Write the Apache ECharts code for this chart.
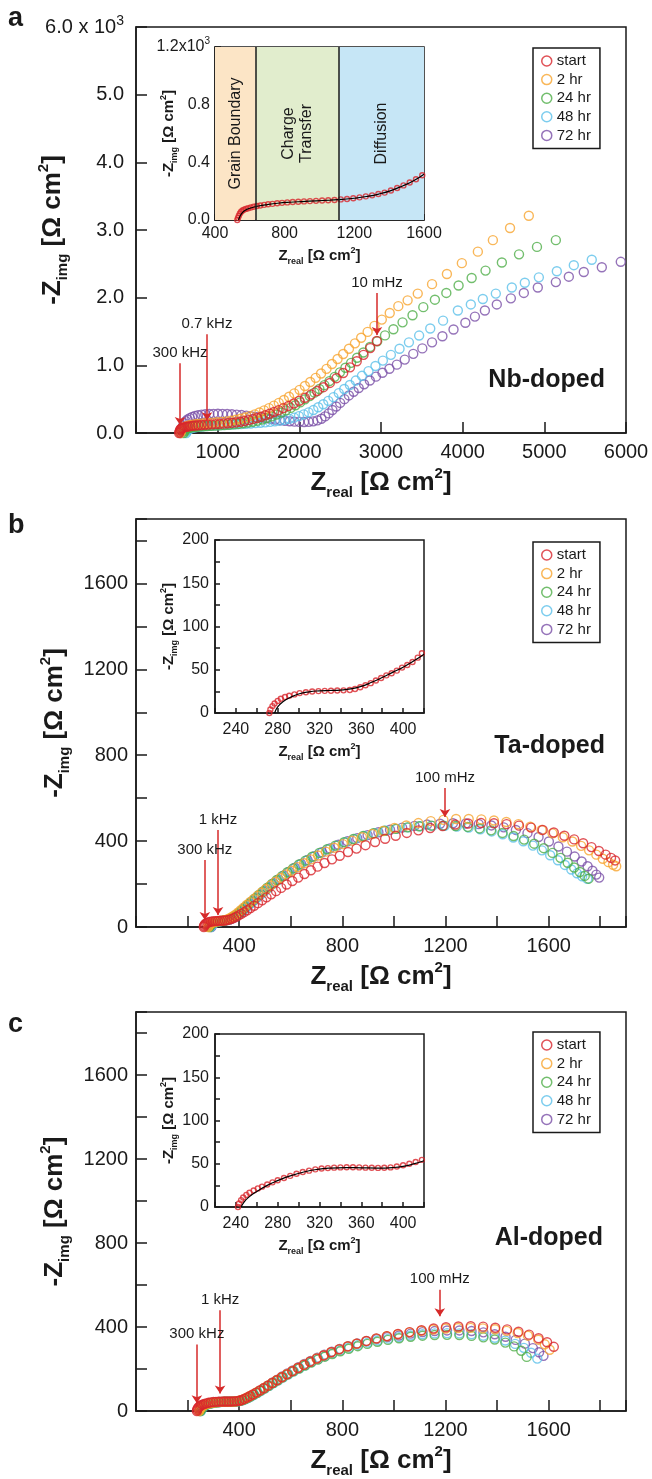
<!DOCTYPE html>
<html>
<head>
<meta charset="utf-8">
<script src="https://cdn.jsdelivr.net/npm/echarts@6/dist/echarts.min.js"></script>
<style>
html, body { margin: 0; padding: 0; background: #fff; }
#chart { width: 652px; height: 1479px; }
</style>
</head>
<body>
<div id="chart"></div>
<script>
// legend names and colours
const names = ['start', '2 hr', '24 hr', '48 hr', '72 hr'];
const colors = ['#d8262c', '#f7a530', '#4fae48', '#5cc1ea', '#7b50a7'];

// ---- panel a : Nb-doped (x in ohm cm2, y in 10^3 ohm cm2)
const nbStart = [[528,0.00],[533,0.02],[539,0.04],[546,0.055],[555,0.066],[566,0.074],[580,0.080],[597,0.086],[617,0.092],[640,0.097],[666,0.102],[695,0.107],[727,0.111],[762,0.115],[800,0.118],[840,0.122],[883,0.125],[928,0.128],[975,0.131],[1024,0.134],[1074,0.138],[1125,0.143],[1176,0.149],[1227,0.157],[1278,0.166],[1329,0.177],[1380,0.19],[1431,0.205],[1482,0.222],[1533,0.241],[1584,0.262],[1636,0.285],[1690,0.31],[1746,0.338],[1805,0.368],[1867,0.40],[1932,0.436],[2000,0.476],[2070,0.52],[2143,0.568],[2218,0.62],[2295,0.677],[2374,0.74],[2455,0.81],[2537,0.886],[2620,0.97],[2703,1.06],[2786,1.155],[2868,1.255],[2948,1.36]];
const nb2h = [[545,0.0],[552,0.03],[562,0.055],[576,0.075],[594,0.09],[616,0.102],[642,0.112],[672,0.12],[706,0.127],[744,0.133],[786,0.138],[832,0.143],[882,0.148],[935,0.153],[990,0.158],[1047,0.164],[1105,0.172],[1163,0.182],[1221,0.195],[1279,0.21],[1337,0.228],[1395,0.25],[1453,0.275],[1511,0.303],[1569,0.334],[1628,0.368],[1688,0.405],[1749,0.445],[1811,0.488],[1874,0.535],[1938,0.585],[2003,0.638],[2068,0.694],[2134,0.753],[2200,0.815],[2266,0.88],[2333,0.948],[2400,1.02],[2468,1.093],[2537,1.168],[2608,1.245],[2681,1.325],[2757,1.408],[2836,1.494],[2920,1.583],[3010,1.676],[3107,1.773],[3212,1.875],[3326,1.96],[3450,2.06],[3625,2.2],[3807,2.35],[3990,2.51],[4186,2.68],[4370,2.85],[4580,3.03],[4810,3.21]];
const nb24h = [[585,0.0],[592,0.025],[602,0.045],[616,0.06],[634,0.07],[656,0.078],[682,0.084],[712,0.089],[746,0.093],[784,0.097],[826,0.10],[872,0.103],[921,0.106],[973,0.109],[1027,0.112],[1083,0.116],[1140,0.121],[1198,0.127],[1256,0.134],[1314,0.143],[1372,0.154],[1430,0.167],[1488,0.182],[1546,0.2],[1604,0.221],[1662,0.245],[1720,0.272],[1778,0.302],[1836,0.335],[1894,0.371],[1952,0.41],[2010,0.452],[2068,0.497],[2127,0.545],[2186,0.596],[2246,0.65],[2307,0.707],[2369,0.767],[2432,0.83],[2497,0.896],[2564,0.965],[2634,1.037],[2707,1.112],[2784,1.19],[2866,1.271],[2954,1.355],[3049,1.442],[3152,1.533],[3264,1.635],[3386,1.74],[3518,1.86],[3660,1.97],[3800,2.07],[3950,2.18],[4110,2.29],[4280,2.40],[4480,2.52],[4690,2.64],[4910,2.75],[5141,2.85]];
const nb48h = [[615,0.0],[622,0.025],[632,0.043],[646,0.056],[664,0.066],[686,0.074],[712,0.081],[742,0.087],[776,0.092],[814,0.097],[856,0.101],[902,0.105],[951,0.109],[1003,0.113],[1057,0.117],[1113,0.121],[1170,0.125],[1228,0.129],[1287,0.133],[1346,0.137],[1405,0.141],[1464,0.146],[1523,0.151],[1582,0.157],[1641,0.164],[1700,0.172],[1759,0.182],[1818,0.194],[1877,0.209],[1936,0.227],[1995,0.249],[2054,0.275],[2113,0.305],[2172,0.339],[2232,0.38],[2293,0.425],[2355,0.475],[2418,0.53],[2483,0.59],[2550,0.65],[2619,0.71],[2691,0.775],[2767,0.845],[2847,0.915],[2932,0.99],[3023,1.07],[3121,1.155],[3227,1.245],[3342,1.34],[3467,1.44],[3603,1.545],[3760,1.66],[3941,1.81],[4100,1.90],[4247,1.98],[4406,2.06],[4602,2.15],[4761,2.22],[4933,2.30],[5153,2.39],[5361,2.48],[5581,2.56]];
const nb72h = [[550,0.0],[556,0.03],[565,0.07],[577,0.11],[592,0.145],[610,0.175],[632,0.2],[658,0.22],[688,0.237],[722,0.251],[760,0.262],[802,0.271],[848,0.277],[897,0.281],[949,0.283],[1003,0.284],[1059,0.283],[1116,0.281],[1174,0.277],[1233,0.272],[1292,0.265],[1351,0.257],[1410,0.248],[1469,0.238],[1528,0.228],[1587,0.218],[1646,0.208],[1705,0.198],[1764,0.189],[1823,0.181],[1882,0.174],[1941,0.168],[2000,0.164],[2058,0.163],[2115,0.165],[2170,0.172],[2222,0.186],[2270,0.21],[2315,0.245],[2360,0.29],[2405,0.34],[2452,0.392],[2500,0.445],[2552,0.5],[2607,0.555],[2665,0.61],[2727,0.665],[2793,0.72],[2863,0.776],[2938,0.833],[3018,0.891],[3103,0.95],[3194,1.01],[3291,1.085],[3395,1.17],[3506,1.25],[3625,1.34],[3752,1.43],[3888,1.53],[4033,1.63],[4150,1.72],[4272,1.81],[4418,1.90],[4590,1.99],[4749,2.07],[4920,2.15],[5141,2.23],[5300,2.31],[5483,2.38],[5704,2.45],[5936,2.53]];
const nbInsetPts = [[528,0.0],[532,0.015],[537,0.03],[543,0.045],[550,0.058],[558,0.066],[567,0.072],[577,0.077],[590,0.082],[605,0.087],[622,0.092],[640,0.097],[660,0.101],[682,0.105],[705,0.109],[730,0.112],[757,0.116],[785,0.119],[815,0.122],[846,0.125],[878,0.127],[911,0.129],[945,0.131],[980,0.133],[1015,0.135],[1050,0.137],[1086,0.139],[1122,0.143],[1158,0.146],[1194,0.151],[1230,0.157],[1266,0.164],[1302,0.171],[1338,0.18],[1374,0.19],[1410,0.205],[1446,0.222],[1482,0.24],[1518,0.26],[1554,0.283],[1590,0.31],[1603,0.322]];
const nbInsetFit = [[535,0],[545,0.03],[560,0.055],[580,0.072],[610,0.085],[650,0.097],[700,0.107],[760,0.116],[830,0.123],[900,0.128],[980,0.133],[1060,0.138],[1130,0.143],[1200,0.151],[1270,0.163],[1340,0.18],[1410,0.204],[1480,0.238],[1540,0.272],[1600,0.318]];
const nbRegions = [[400, 633, 'Grain Boundary', '#fce5c6'], [633, 1112, 'Charge\nTransfer', '#e1edcd'], [1112, 1600, 'Diffusion', '#c6e6f6']];
const nbArrows = [[539, 1.03, 0.12, '300 kHz'], [869, 1.46, 0.19, '0.7 kHz'], [2951, 2.07, 1.45, '10 mHz']];

// ---- panel b : Ta-doped (ohm cm2)
const taStart = [[263,0],[264,5],[266,10],[269,14],[273,17.5],[278,20.5],[284,23],[291,25],[299,26.5],[308,27.5],[317,28.2],[326,28.8],[335,29.5],[344,30.5],[353,32],[362,34.5],[371,38],[380,42.5],[389,48],[398,54],[408,61],[419,69],[431,78],[444,88],[458,99],[473,111],[489,124],[506,138],[524,152],[543,167],[563,182],[584,198],[606,214],[629,230],[653,247],[678,264],[704,281],[731,298],[760,315],[790,332],[822,349],[855,365],[890,381],[927,396],[966,411],[1007,425],[1050,438],[1095,450],[1141,461],[1189,470],[1238,477],[1288,482],[1338,484],[1388,483],[1437,479],[1485,472],[1532,463],[1577,452],[1620,440],[1661,425],[1699,408],[1734,390],[1766,372],[1795,354],[1821,337],[1842,322],[1858,310]];
const ta2h = [[280,0],[282,6],[285,11],[289,15],[294,19],[300,22],[307,24.5],[315,26.5],[324,28],[333,29.5],[342,31.5],[351,34.5],[360,38.5],[369,44],[378,51],[387,59],[396,68],[406,78.5],[417,90],[429,102.5],[442,116],[456,130],[471,145],[487,161],[504,177],[522,194],[541,211],[561,228],[582,245],[604,262],[627,279],[652,297],[678,315],[706,333],[736,351],[768,369],[802,386],[838,402],[876,418],[916,433],[958,447],[1002,461],[1048,473],[1095,484],[1143,493],[1192,499],[1241,503],[1290,503],[1339,501],[1388,496],[1436,489],[1483,479],[1529,467],[1573,452],[1615,436],[1655,418],[1692,398],[1726,378],[1757,357],[1785,337],[1810,318],[1832,302],[1850,290],[1862,283]];
const ta24h = [[285,0],[287,6],[290,11],[294,15],[299,19],[305,22],[312,24.5],[320,26.5],[329,28],[338,29.5],[347,31.5],[356,34.5],[365,38.5],[374,44],[383,51],[392,59],[401,68],[411,79],[422,91],[434,104],[447,118],[461,133],[476,149],[492,166],[509,183],[527,201],[546,219],[566,237],[587,255],[609,273],[632,291],[657,309],[683,327],[711,345],[741,362],[773,379],[807,395],[843,410],[881,424],[921,437],[963,448],[1007,457],[1052,464],[1098,469],[1145,472],[1192,472],[1239,470],[1286,466],[1332,459],[1377,450],[1421,438],[1464,424],[1505,407],[1544,388],[1581,367],[1615,345],[1646,322],[1674,299],[1699,277],[1721,256],[1740,238],[1755,225]];
const ta48h = [[290,0],[292,6],[295,11],[299,15.5],[304,19.5],[310,22.5],[317,25],[325,27],[334,28.5],[343,30],[352,32],[361,35],[370,39],[379,44.5],[388,51.5],[397,59.5],[406,68.5],[416,79],[427,91],[439,104],[452,118],[466,133],[481,149],[497,166],[514,183],[532,201],[551,219],[571,237],[592,255],[614,273],[637,291],[662,309],[688,327],[716,345],[746,362],[778,379],[812,395],[848,410],[886,424],[926,437],[968,448],[1012,457],[1057,464],[1103,469],[1150,471],[1197,471],[1244,468],[1290,463],[1335,455],[1379,445],[1422,432],[1463,417],[1502,399],[1539,379],[1574,357],[1606,334],[1636,311],[1663,289],[1688,268],[1710,250],[1730,236],[1750,224]];
const ta72h = [[292,0],[294,6],[297,11],[301,15.5],[306,19.5],[312,22.5],[319,25],[327,27],[336,28.5],[345,30],[354,32],[363,35],[372,39.5],[381,45.5],[390,53],[399,61.5],[408,71],[418,82],[429,94],[441,107],[454,121],[468,136],[483,152],[499,169],[516,186],[534,204],[553,222],[573,240],[594,258],[616,276],[640,294],[665,312],[692,330],[721,348],[752,366],[785,383],[820,399],[858,414],[898,428],[940,441],[985,453],[1032,463],[1080,471],[1129,477],[1179,481],[1229,483],[1279,482],[1329,479],[1378,473],[1426,464],[1473,452],[1518,437],[1561,419],[1601,398],[1638,375],[1671,351],[1701,328],[1728,305],[1751,283],[1770,262],[1785,244],[1796,230]];
const taInsetPts = [[272,0],[273,4],[275,8],[277,11],[280,14],[283,16.5],[287,18.5],[291,20],[296,21.5],[301,23],[307,24],[313,24.8],[319,25.3],[325,25.6],[331,25.8],[337,26],[343,26.2],[349,26.6],[354,27.8],[359,29.8],[364,32],[369,34.5],[374,37.5],[379,40.5],[384,43.5],[389,46],[394,49],[399,52.5],[404,55.5],[409,59],[414,64],[418,69]];
const taInsetFit = [[277,0],[280,7],[285,13],[292,18],[300,22],[310,24.5],[320,25.6],[330,26],[340,26.5],[350,27.8],[360,30.8],[370,35.5],[380,41],[390,47],[400,53],[410,60],[420,68]];
const taArrows = [[267, 312, 33, '300 kHz'], [318, 452, 56, '1 kHz'], [1198, 647, 512, '100 mHz']];

// ---- panel c : Al-doped (ohm cm2)
const alStart = [[236,0],[237,6],[239,12],[242,17],[246,22],[251,26.5],[257,30.5],[264,34],[272,37],[281,39.5],[290,41.5],[300,43],[310,44],[320,44.8],[330,45.3],[340,45.6],[350,45.8],[360,45.9],[370,46],[380,46.5],[390,47.5],[400,49.5],[410,53],[420,58],[430,64],[441,71],[453,79],[466,88],[480,98],[495,109],[511,121],[528,134],[546,147],[565,161],[585,175],[606,190],[628,205],[651,220],[675,235],[701,250],[728,265],[757,280],[788,294],[821,308],[856,321],[893,334],[932,346],[973,357],[1016,367],[1061,376],[1107,385],[1154,393],[1202,399],[1250,403],[1298,404],[1346,402],[1393,397],[1439,389],[1483,378],[1524,364],[1561,347],[1594,328],[1620,306]];
const al2h = [[245,0],[246,6],[248,11],[251,16],[255,21],[260,25.5],[266,29.5],[273,33],[281,36],[290,38.5],[299,40.5],[309,42],[319,43],[329,43.8],[339,44.3],[349,44.6],[359,44.8],[369,45],[379,45.6],[389,46.8],[399,49],[409,52.5],[419,57.5],[429,63.5],[440,70.5],[452,78.5],[465,87.5],[479,97.5],[494,108.5],[510,120.5],[527,133.5],[545,147],[564,161],[584,175.5],[605,190.5],[627,205.5],[650,220.5],[674,235.5],[700,250.5],[727,265.5],[756,280],[787,294],[820,307.5],[855,320.5],[892,333],[931,345],[972,356],[1015,366],[1060,375],[1106,382.5],[1153,388.5],[1201,393],[1249,395.5],[1297,396],[1345,394],[1392,389.5],[1437,382],[1480,372],[1520,359],[1560,340],[1585,318],[1604,292]];
const al24h = [[250,0],[251,6],[253,11],[256,16],[260,21],[265,25.5],[271,29.5],[278,33],[286,36],[295,38.5],[304,40.5],[314,42],[324,43],[334,43.8],[344,44.3],[354,44.6],[364,44.8],[374,45],[384,45.6],[394,46.8],[404,49],[414,52.5],[424,57.5],[434,63.5],[445,70.5],[457,78.5],[470,87.5],[484,97.5],[499,108.5],[515,120.5],[532,133.5],[550,147],[569,161],[589,175],[610,189],[632,203],[655,217],[679,231],[705,245],[732,259],[761,272],[792,285],[825,297],[860,309],[897,320],[936,330],[977,339],[1020,347],[1065,354],[1111,359],[1158,362],[1206,363],[1254,362],[1301,358],[1347,351],[1391,341],[1432,326],[1466,308],[1494,287],[1515,258]];
const al48h = [[252,0],[253,6],[255,11],[258,16],[262,21],[267,25.5],[273,29.5],[280,33],[288,36],[297,38.5],[306,40.5],[316,42],[326,43],[336,43.8],[346,44.3],[356,44.6],[366,44.8],[376,45],[386,45.6],[396,46.8],[406,49],[416,52.5],[426,57.5],[436,63.5],[447,70.5],[459,78.5],[472,87.5],[486,97.5],[501,108.5],[517,120.5],[534,133.5],[552,147],[571,161],[591,175],[612,189.5],[634,204],[657,218.5],[681,233],[707,247.5],[734,262],[763,276],[794,290],[827,303],[862,315],[899,326],[938,336],[979,345],[1020,352],[1065,360],[1111,366],[1158,370],[1206,371],[1254,370],[1301,366],[1347,359],[1391,349],[1432,336],[1470,320],[1504,301],[1532,278],[1556,250]];
const al72h = [[248,0],[249,6],[251,11],[254,16],[258,21],[263,25.5],[269,29.5],[276,33],[284,36],[293,38.5],[302,40.5],[312,42],[322,43],[332,43.8],[342,44.3],[352,44.6],[362,44.8],[372,45],[382,45.6],[392,46.8],[402,49],[412,52.5],[422,57.5],[432,63.5],[443,70.5],[455,78.5],[468,88],[482,98.5],[497,110],[513,122.5],[530,136],[548,150],[567,164.5],[587,179],[608,194],[630,209],[653,224],[677,239],[703,254],[730,268.5],[759,282.5],[790,296],[823,309],[858,321.5],[895,333],[934,343.5],[975,352.5],[1020,360],[1065,369],[1111,376],[1158,381],[1206,384],[1254,384],[1301,381],[1347,375],[1391,366],[1433,354],[1472,339],[1508,321],[1539,300],[1563,280],[1580,263]];
const alInsetPts = [[242,0],[243,4],[245,8],[247,11],[250,14],[253,16.5],[257,19],[261,21.5],[265,23.5],[270,26],[275,28.5],[280,31],[286,33.5],[292,36],[298,38.5],[304,40.5],[310,42],[316,43.5],[322,44.5],[328,45],[334,45.5],[340,45.8],[346,46],[352,46],[358,45.8],[364,45.5],[370,45.3],[376,45.2],[382,45.3],[388,45.8],[394,46.8],[400,48.2],[406,50],[412,52],[418,54.5]];
const alInsetFit = [[245,0],[248,6],[253,12],[260,18],[270,25],[280,30.5],[292,36],[305,40.5],[318,43.5],[330,45],[345,45.6],[360,45.3],[375,45],[390,45.6],[400,47],[410,49.8],[420,53.5]];
const alArrows = [[236, 317, 37, '300 kHz'], [326, 480, 84, '1 kHz'], [1178, 578, 452, '100 mHz']];

const FONT = "'Liberation Sans', Arial, Helvetica, sans-serif";
const INK = '#1a1a1a';

const chart = echarts.init(document.getElementById('chart'));

const bigName = {
    fontFamily: FONT, fontSize: 26, fontWeight: 'bold', color: INK, lineHeight: 34,
    rich: {
        sub: { fontFamily: FONT, fontSize: 15, fontWeight: 'bold', color: INK, lineHeight: 14, verticalAlign: 'bottom' },
        sup: { fontFamily: FONT, fontSize: 15, fontWeight: 'bold', color: INK, lineHeight: 14, verticalAlign: 'top' }
    }
};
const smallName = {
    fontFamily: FONT, fontSize: 15, fontWeight: 'bold', color: INK, lineHeight: 20,
    rich: {
        sub: { fontFamily: FONT, fontSize: 9, fontWeight: 'bold', color: INK, lineHeight: 9, verticalAlign: 'bottom' },
        sup: { fontFamily: FONT, fontSize: 9, fontWeight: 'bold', color: INK, lineHeight: 9, verticalAlign: 'top' }
    }
};
const supRich = (size) => ({ s: { fontFamily: FONT, fontSize: size, color: INK, lineHeight: size, verticalAlign: 'top' } });

function axis(gi, min, max, interval, fmt, o) {
    return {
        type: 'value', gridIndex: gi, min: min, max: max, interval: interval,
        axisLine: { show: true, onZero: false, lineStyle: { color: INK, width: 1.5 } },
        axisTick: { show: true, inside: true, length: o.tick, lineStyle: { color: INK, width: 1.5 } },
        axisLabel: { fontFamily: FONT, fontSize: o.font, color: INK, margin: o.margin, formatter: fmt, lineHeight: o.font + 6, rich: supRich(o.font - 6) },
        splitLine: { show: false },
        name: o.name, nameLocation: 'middle', nameGap: o.gap, nameRotate: o.rot || 0,
        nameMoveOverlap: !o.rot,
        nameTextStyle: o.nameStyle
    };
}

const xName = 'Z{sub|real} [Ω cm{sup|2}]';
const yName = '-Z{sub|img} [Ω cm{sup|2}]';

const grids = [
    { left: 136, top: 27, width: 490, height: 406 },
    { left: 136, top: 519, width: 490, height: 408 },
    { left: 136, top: 1012, width: 490, height: 408 },
    { left: 215, top: 47, width: 209, height: 173 },
    { left: 215, top: 540, width: 209, height: 173 },
    { left: 215, top: 1034, width: 209, height: 173 }
].map(g => Object.assign({ show: true, borderColor: INK, borderWidth: 1.5, backgroundColor: '#fff', containLabel: false }, g));

const fmtBig = v => (v > 0 && v % 400 === 0) ? String(v) : '';
const fmtBigY = v => (v % 400 === 0) ? String(v) : '';
const fmtInX = v => ((v - 240) % 40 === 0) ? String(v) : '';
const fmtInY = v => (v % 50 === 0) ? String(v) : '';

const xAxes = [
    axis(0, 0, 6000, 1000, v => v === 0 ? '' : String(v), { tick: 11, font: 20, margin: 6, name: xName, gap: 32, nameStyle: bigName }),
    axis(1, 0, 1900, 200, fmtBig, { tick: 11, font: 20, margin: 6, name: xName, gap: 26, nameStyle: bigName }),
    axis(2, 0, 1900, 200, fmtBig, { tick: 11, font: 20, margin: 6, name: xName, gap: 26, nameStyle: bigName }),
    axis(3, 400, 1600, 200, v => v % 400 === 0 ? String(v) : '', { tick: 6, font: 16, margin: 3, name: xName, gap: 17, nameStyle: smallName }),
    axis(4, 220, 420, 20, fmtInX, { tick: 5, font: 16, margin: 6, name: xName, gap: 24, nameStyle: smallName }),
    axis(5, 220, 420, 20, fmtInX, { tick: 5, font: 16, margin: 6, name: xName, gap: 24, nameStyle: smallName })
];
const yAxes = [
    axis(0, 0, 6, 1, v => v === 6 ? '6.0 x 10{s|3}' : v.toFixed(1), { tick: 11, font: 20, margin: 12, name: yName, gap: 66, rot: 90, nameStyle: bigName }),
    axis(1, 0, 1900, 200, fmtBigY, { tick: 11, font: 20, margin: 8, name: yName, gap: 64, rot: 90, nameStyle: bigName }),
    axis(2, 0, 1900, 200, fmtBigY, { tick: 11, font: 20, margin: 8, name: yName, gap: 64, rot: 90, nameStyle: bigName }),
    axis(3, 0, 1.2, 0.1, v => { const r = Math.round(v * 10); return r % 4 !== 0 ? '' : (r === 12 ? '1.2x10{s|3}' : (r / 10).toFixed(1)); }, { tick: 6, font: 16, margin: 5, name: yName, gap: 36, rot: 90, nameStyle: smallName }),
    axis(4, 0, 200, 25, fmtInY, { tick: 5, font: 16, margin: 6, name: yName, gap: 36, rot: 90, nameStyle: smallName }),
    axis(5, 0, 200, 25, fmtInY, { tick: 5, font: 16, margin: 6, name: yName, gap: 36, rot: 90, nameStyle: smallName })
];

function circles(gi, name, data, color, size) {
    return {
        type: 'scatter', name: name, xAxisIndex: gi, yAxisIndex: gi, data: data,
        symbol: 'circle', symbolSize: size, silent: true, animation: false,
        itemStyle: { color: 'rgba(255,255,255,0)', borderColor: color, borderWidth: 1.4 },
        emphasis: { disabled: true }
    };
}

function arrows(list) {
    return {
        silent: true, animation: false, symbol: ['none', 'arrow'], symbolSize: 8,
        lineStyle: { color: '#d62a2a', width: 1.5, type: 'solid' },
        label: { show: true, position: 'start', formatter: '{b}', fontFamily: FONT, fontSize: 15, color: INK, distance: 3 },
        emphasis: { disabled: true },
        data: list.map(a => [{ coord: [a[0], a[1]], name: a[3] }, { coord: [a[0], a[2]] }])
    };
}

function panel(gi, sets, arrowList) {
    // red drawn last so it sits on top
    const order = [4, 3, 2, 1, 0];
    return order.map(i => {
        const s = circles(gi, names[i], sets[i], colors[i], 9);
        if (i === 0) s.markLine = arrows(arrowList);
        return s;
    });
}

function inset(gi, pts, fit) {
    return [
        circles(gi, 'inset data', pts, colors[0], 5),
        {
            type: 'line', name: 'inset fit', xAxisIndex: gi, yAxisIndex: gi, data: fit,
            smooth: true, showSymbol: false, silent: true, animation: false,
            lineStyle: { color: '#000', width: 1.2 }, emphasis: { disabled: true }
        }
    ];
}

const series = [].concat(
    panel(0, [nbStart, nb2h, nb24h, nb48h, nb72h], nbArrows),
    panel(1, [taStart, ta2h, ta24h, ta48h, ta72h], taArrows),
    panel(2, [alStart, al2h, al24h, al48h, al72h], alArrows),
    inset(3, nbInsetPts, nbInsetFit),
    inset(4, taInsetPts, taInsetFit),
    inset(5, alInsetPts, alInsetFit)
);

// shaded regions + boundary lines in inset a
series[15].markArea = {
    silent: true,
    label: { show: true, position: 'inside', rotate: 90, fontFamily: FONT, fontSize: 16, color: INK, lineHeight: 18 },
    data: nbRegions.map(r => [{ xAxis: r[0], name: r[2], itemStyle: { color: r[3] } }, { xAxis: r[1] }])
};
series[16].markLine = {
    silent: true, symbol: 'none', animation: false,
    lineStyle: { color: INK, width: 1.5, type: 'solid' }, label: { show: false },
    data: [{ xAxis: nbRegions[1][0] }, { xAxis: nbRegions[2][0] }]
};

function legendAt(top) {
    return {
        orient: 'vertical', left: 533, top: top, itemWidth: 10, itemHeight: 10, itemGap: 2.6,
        padding: [5, 9, 5, 8], borderColor: INK, borderWidth: 1.5, backgroundColor: '#fff',
        selectedMode: false,
        textStyle: { fontFamily: FONT, fontSize: 15, color: INK, lineHeight: 16 },
        data: names.map((n, i) => ({ name: n, icon: 'circle', itemStyle: { color: 'rgba(255,255,255,0)', borderColor: colors[i], borderWidth: 1.5 } }))
    };
}

const txt = (text, x, y, size, align) => ({
    type: 'text', x: x, y: y, silent: true,
    style: { text: text, fill: INK, font: 'bold ' + size + 'px ' + FONT, textAlign: align, textVerticalAlign: 'middle', align: align, verticalAlign: 'middle' }
});

chart.setOption({
    animation: false,
    grid: grids,
    xAxis: xAxes,
    yAxis: yAxes,
    legend: [legendAt(48), legendAt(542), legendAt(1032)],
    series: series,
    graphic: [
        txt('a', 8, 19, 27, 'left'),
        txt('b', 8, 526, 27, 'left'),
        txt('c', 8, 1025, 27, 'left'),
        txt('Nb-doped', 605, 380, 25, 'right'),
        txt('Ta-doped', 605, 746, 25, 'right'),
        txt('Al-doped', 603, 1238, 25, 'right')
    ]
});
</script>
</body>
</html>
